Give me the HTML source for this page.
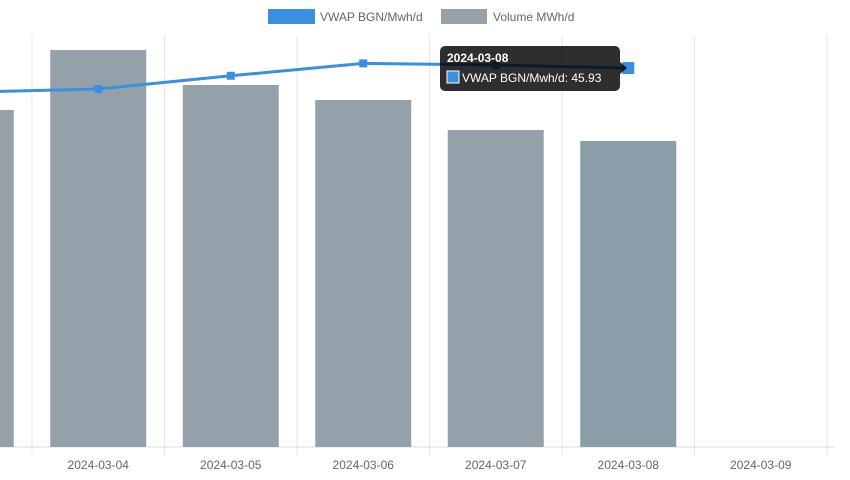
<!DOCTYPE html>
<html><head><meta charset="utf-8"><style>
body{margin:0;background:#fff;}
svg{display:block;font-family:"Liberation Sans",Arial,sans-serif;}
</style></head><body>
<svg id="chart" width="850" height="480">
<g>
<g><rect x="268" y="9" width="47" height="15" fill="#3a8fdf"/><text x="320" y="21" font-size="12" fill="#666">VWAP BGN/Mwh/d</text></g>
<g><rect x="441" y="9" width="46" height="15" fill="#95a1aa"/><text x="493" y="21" font-size="12" fill="#666">Volume MWh/d</text></g>
</g>
<g id="grid"></g>
<g id="bars"></g>
<g id="line"></g>
<g id="xlabels"></g>
<g>
<rect x="440" y="46" width="180" height="45" rx="5" fill="rgba(0,0,0,0.82)"/>
<polygon points="620,62 627,68 620,74" fill="rgba(0,0,0,0.82)"/>
<text x="447" y="62" font-size="12" font-weight="bold" fill="#fff">2024-03-08</text>
<rect x="447" y="71" width="12" height="12" fill="#3a8fdf" stroke="#fff" stroke-width="1"/>
<text x="462" y="82" font-size="12" fill="#fff">VWAP BGN/Mwh/d: 45.93</text>
</g>
</svg>
<script>
const categories=["2024-03-03","2024-03-04","2024-03-05","2024-03-06","2024-03-07","2024-03-08","2024-03-09"];
const volumeValues=[3370,3970,3620,3470,3170,3060,null];
const vwapValues=[43.0,43.4,45.0,46.5,46.3,45.93,null];
const NS="http://www.w3.org/2000/svg";
const base=447, catW=132.5, x0=-100.5;
function xCenter(i){return x0+catW*i+catW/2;}
function yVol(v){return base-v*0.1;}
function yVwap(v){return 447-v*8.25;}
function mk(tag,attrs,parent){const e=document.createElementNS(NS,tag);for(const k in attrs)e.setAttribute(k,attrs[k]);parent.appendChild(e);return e;}
const grid=document.getElementById('grid');
for(let i=0;i<=categories.length;i++){const gx=x0+catW*i;
 const l=mk('line',{x1:gx,x2:gx,y1:35,y2:455,stroke:'#e5e5e5'},grid);
 
 }
const ax=mk('line',{x1:0,x2:835,y1:base,y2:base,stroke:'#ddd'},grid);


const bars=document.getElementById('bars');
volumeValues.forEach((v,i)=>{if(v==null)return;const y=yVol(v);
 const r=mk('rect',{x:xCenter(i)-48,y:y,width:96,height:base-y,fill:i==5?'#8a9eaa':'#95a1aa'},bars);
 
 });
const lg=document.getElementById('line');
const pts=[];vwapValues.forEach((v,i)=>{if(v!=null)pts.push([xCenter(i),yVwap(v),i]);});
const pl=mk('polyline',{points:pts.map(p=>p[0]+','+p[1]).join(' '),fill:'none',stroke:'#3a8fdf','stroke-width':3},lg);


pts.forEach(p=>{const s=p[2]==5?12:8;
 const r=mk('rect',{x:p[0]-s/2,y:p[1]-s/2,width:s,height:s,fill:'#3a8fdf'},lg);
 
 });
const xl=document.getElementById('xlabels');
categories.forEach((c,i)=>{const t=mk('text',{x:xCenter(i),y:469,'font-size':12,fill:'#666','text-anchor':'middle'},xl);t.textContent=c;
 
 });
</script>
</body></html>
